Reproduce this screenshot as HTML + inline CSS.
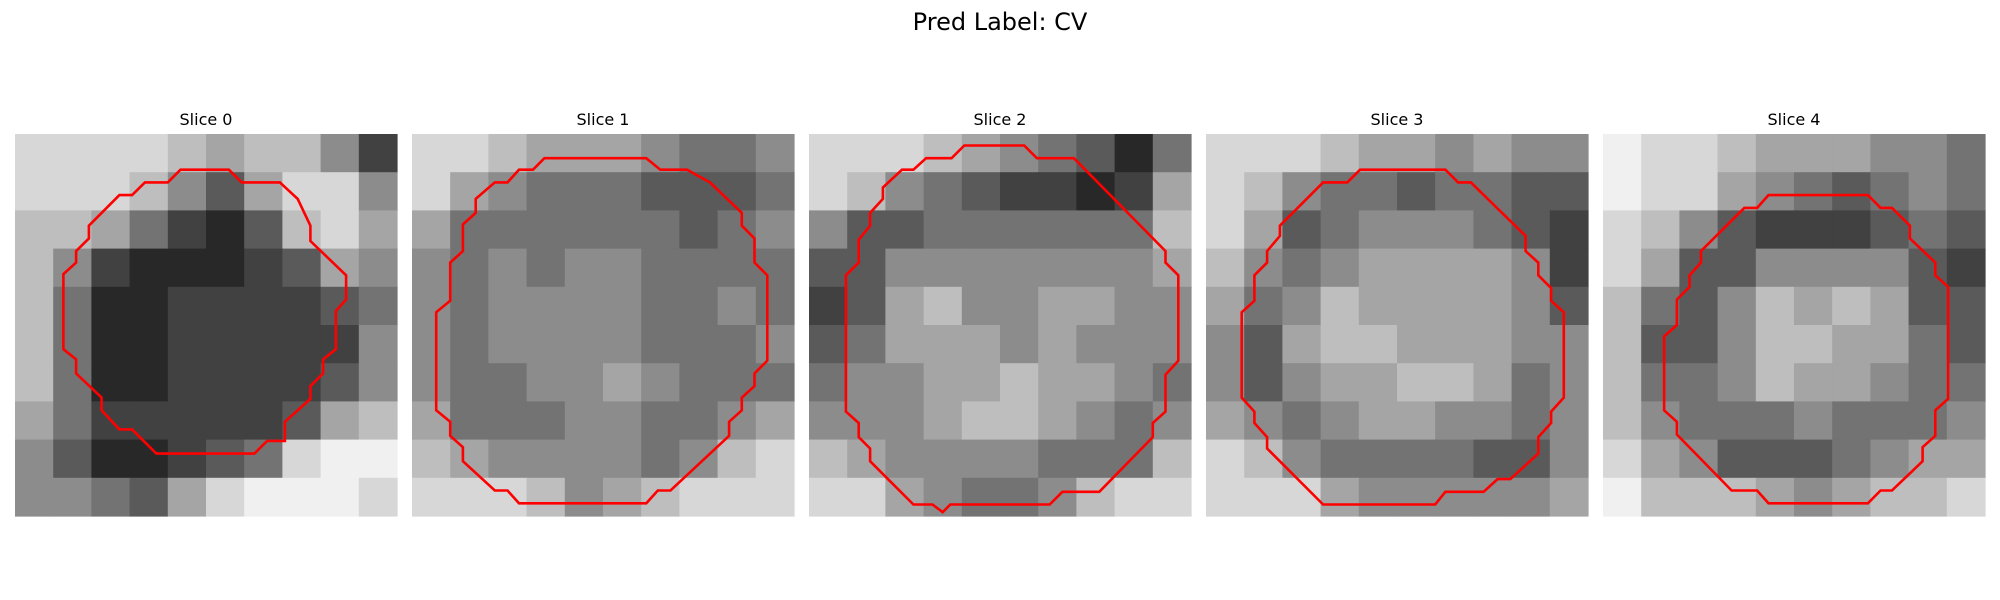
<!DOCTYPE html>
<html><head><meta charset="utf-8"><style>
html,body{margin:0;padding:0;background:#fff;}
svg{display:block;font-family:"DejaVu Sans","Liberation Sans",sans-serif;}
</style></head><body>
<svg id="fig" width="2000" height="600" viewBox="0 0 2000 600">
<text x="1000" y="30" text-anchor="middle" font-size="24" fill="#000">Pred Label: CV</text>
</svg>
<script>
// Coarse 10x10 intensity grids (0=black, 9=white)
const slice0 = [
[8,8,8,8,7,6,7,7,5,2],[8,8,8,7,5,3,6,8,8,5],[7,7,6,4,2,1,3,7,8,6],[7,5,2,1,1,1,2,3,6,5],
[7,4,1,1,2,2,2,2,3,4],[7,4,1,1,2,2,2,2,2,5],[7,4,1,1,2,2,2,2,3,5],[6,4,2,2,2,2,2,3,6,7],
[5,3,1,1,2,3,4,8,9,9],[5,5,4,3,6,8,9,9,9,8]];
const slice1 = [
[8,8,7,6,6,6,5,4,4,5],[8,6,5,4,4,4,3,3,3,4],[6,4,4,4,4,4,4,3,4,5],[5,4,5,4,5,5,4,4,4,4],
[5,4,5,5,5,5,4,4,5,4],[5,4,5,5,5,5,4,4,4,5],[5,4,4,5,5,6,5,4,4,4],[6,4,4,4,5,5,4,4,5,6],
[7,6,5,5,5,5,4,5,7,8],[8,8,8,7,5,6,7,8,8,8]];
const slice2 = [
[8,8,8,7,6,5,4,3,1,4],[8,7,5,4,3,2,2,1,2,6],[5,3,3,4,4,4,4,4,4,7],[3,3,5,5,5,5,5,5,5,6],
[2,3,6,7,5,5,6,6,5,5],[3,4,6,6,6,5,6,5,5,5],[4,5,5,6,6,7,6,6,5,4],[5,5,5,6,7,7,6,5,4,5],
[7,6,5,5,5,5,4,4,4,7],[8,8,6,5,4,4,5,7,8,8]];
const slice3 = [
[8,8,8,7,6,6,5,6,5,5],[8,7,5,4,4,3,4,4,3,3],[8,6,3,4,5,5,5,4,3,2],[7,5,4,5,6,6,6,6,5,2],
[6,4,5,7,6,6,6,6,5,3],[5,3,6,7,7,6,6,6,5,5],[5,3,5,6,6,7,7,6,4,5],[6,5,4,5,6,6,5,5,4,5],
[8,7,5,4,4,4,4,3,3,5],[8,8,8,6,5,5,5,5,5,6]];
const slice4 = [
[9,8,8,7,6,6,6,5,5,4],[9,8,8,6,5,4,3,4,5,4],[8,7,5,3,2,2,2,3,4,3],[8,6,3,3,5,5,5,5,3,2],
[7,4,3,5,7,6,7,6,3,3],[7,3,3,5,7,7,6,6,4,3],[7,4,4,5,7,6,6,5,4,4],[7,5,4,4,4,5,4,4,4,5],
[8,6,5,3,3,3,4,5,6,6],[9,7,7,7,6,5,6,7,7,8]];
// Contours in image-pixel units (30x30 image)
const contour0 = [[13,2.8],[16.8,2.8],[17.8,3.8],[20.8,3.8],[22.2,5.1],[23.2,7.2],[23.2,8.4],[26,11.1],[26,13],[25.2,13.9],[25.2,16.9],[24.2,17.7],[24.2,18.8],[23.2,19.8],[23.2,20.8],[21.2,22.6],[21.2,24.1],[19.8,24.1],[18.8,25.1],[11.1,25.1],[9.2,23.2],[8.2,23.2],[6.8,21.7],[6.8,20.7],[4.8,18.8],[4.8,17.7],[3.8,16.9],[3.8,11],[4.8,10.1],[4.8,9.2],[5.8,8.2],[5.8,7.2],[8.2,4.8],[9.2,4.8],[10.2,3.8],[12,3.8]];
const contour1 = [[10.4,1.9],[18.4,1.9],[19.5,2.8],[21.6,2.8],[23.4,3.8],[25.9,6.2],[25.9,7.2],[26.9,8.2],[26.9,10.1],[27.9,11.1],[27.9,17.8],[26.9,18.8],[26.9,19.8],[25.9,20.7],[25.9,21.7],[24.9,22.6],[24.9,23.7],[20.3,28],[19.3,28],[18.4,29],[8.4,29],[7.5,28],[6.5,28],[4,25.7],[4,24.6],[3,23.7],[3,22.6],[1.9,21.7],[1.9,14],[3,13.1],[3,10.1],[4,9.2],[4,7.1],[5,6.2],[5,5.1],[6.5,3.8],[7.5,3.8],[8.4,2.8],[9.5,2.8]];
const contour2 = [[12.2,0.9],[16.9,0.9],[17.9,1.9],[20.8,1.9],[28,9.2],[28,10.1],[29,11.1],[29,17.8],[28,18.9],[28,21.8],[27,22.7],[27,23.8],[22.8,28.1],[19.9,28.1],[18.9,29.1],[11.1,29.1],[10.5,29.7],[9.7,29.1],[8.2,29.1],[4.8,25.7],[4.8,24.7],[3.9,23.8],[3.9,22.7],[2.9,21.8],[2.9,11.1],[3.9,10.1],[3.9,8.3],[4.8,7.2],[4.8,6.2],[5.8,5.1],[5.8,4.2],[7.3,2.8],[8.2,2.8],[9.2,1.9],[11.2,1.9]];
const contour3 = [[12.1,2.8],[18.8,2.8],[19.8,3.8],[20.8,3.8],[25.1,8],[25.1,9.2],[26.1,10.1],[26.1,11.1],[27.1,12.1],[27.1,13.1],[28.1,14],[28.1,20.7],[27.1,21.8],[27.1,22.7],[26.1,23.8],[26.1,25.1],[23.9,27.1],[22.9,27.1],[21.8,28.1],[18.8,28.1],[18,29.1],[9.2,29.1],[4.8,24.7],[4.8,23.8],[3.8,22.7],[3.8,21.8],[2.8,20.7],[2.8,14],[3.8,13.1],[3.8,11.1],[4.8,10.1],[4.8,9.2],[5.8,8],[5.8,7.2],[9.2,3.8],[11.1,3.8]];
const contour4 = [[13,4.8],[20.8,4.8],[21.8,5.8],[22.7,5.8],[24.1,7.2],[24.1,8.2],[26.1,10.1],[26.1,11.1],[27.1,12],[27.1,20.8],[26.1,21.7],[26.1,23.7],[25.1,24.6],[25.1,25.7],[22.7,28],[21.8,28],[20.8,29],[13,29],[12.1,28],[10.1,28],[5.8,23.6],[5.8,22.6],[4.8,21.7],[4.8,15.9],[5.8,15],[5.8,13],[6.8,12],[6.8,11.1],[7.7,10.1],[7.7,9.2],[11.1,5.8],[12.1,5.8]];
const sliceLabels = ["Slice 0","Slice 1","Slice 2","Slice 3","Slice 4"];

const grids=[slice0,slice1,slice2,slice3,slice4];
const contours=[contour0,contour1,contour2,contour3,contour4];
const NS="http://www.w3.org/2000/svg";
const svg=document.getElementById('fig');
const PX0=15, PSTEP=397, PY=134, PSIZE=382, IMG=30;
function mk(t,a){const e=document.createElementNS(NS,t);for(const k in a)e.setAttribute(k,a[k]);return e;}
function gray(v){const g=Math.round(15+v*(225/9));return `rgb(${g},${g},${g})`;}
grids.forEach((grid,i)=>{
  const ox=PX0+i*PSTEP;
  const g=mk('g',{});
  
  
  svg.appendChild(g);
  const t=mk('text',{x:ox+PSIZE/2,y:125,'text-anchor':'middle','font-size':'16',fill:'#000'});
  t.textContent=sliceLabels[i];
  
  
  g.appendChild(t);
  const n=grid.length, cs=PSIZE/n;
  grid.forEach((row,r)=>row.forEach((v,c)=>{
    const rc=mk('rect',{x:(ox+c*cs).toFixed(2),y:(PY+r*cs).toFixed(2),width:(cs+0.6).toFixed(2),height:(cs+0.6).toFixed(2),fill:gray(v)});
    
    
    g.appendChild(rc);
  }));
  const sc=PSIZE/IMG;
  const pts=contours[i].map(p=>(ox+p[0]*sc).toFixed(1)+','+(PY+p[1]*sc).toFixed(1)).join(' ');
  const pl=mk('polygon',{points:pts,fill:'none',stroke:'#ff0000','stroke-width':'2.6','stroke-linejoin':'miter'});
  
  
  g.appendChild(pl);
});
</script>
</body></html>
